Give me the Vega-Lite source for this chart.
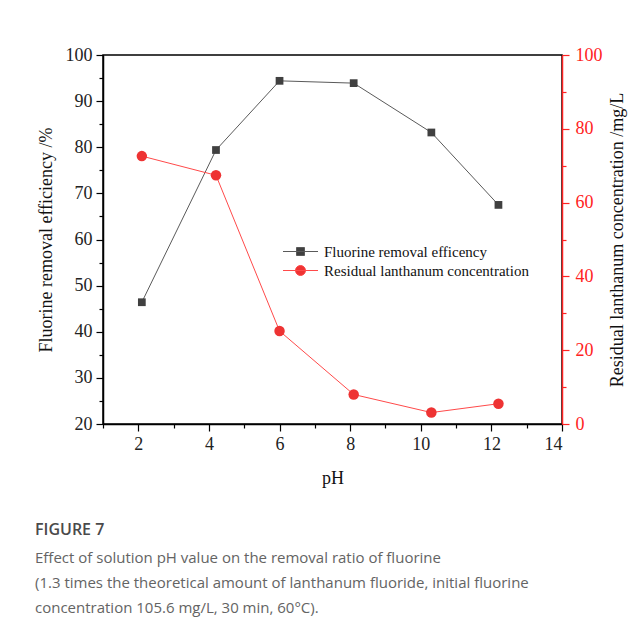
{
  "$schema": "https://vega.github.io/schema/vega-lite/v6.json",
  "autosize": "none",
  "width": 459,
  "height": 369,
  "padding": {"left": 103, "top": 55, "right": 81, "bottom": 204},
  "background": "white",
  "config": {
    "view": {"stroke": "black", "strokeWidth": 1.5},
    "axis": {
      "grid": false,
      "labelFont": "Liberation Serif",
      "labelFontSize": 18,
      "labelColor": "#222",
      "titleFont": "Liberation Serif",
      "titleFontSize": 18,
      "titleFontWeight": "normal",
      "titleColor": "#111",
      "domainColor": "black",
      "domainWidth": 1.5,
      "tickColor": "black",
      "tickWidth": 1.2
    },
    "legend": {
      "labelFont": "Liberation Serif",
      "labelFontSize": 15,
      "labelColor": "#111",
      "labelLimit": 400
    }
  },
  "title": {
    "text": "FIGURE 7",
    "subtitle": [
      "Effect of solution pH value on the removal ratio of fluorine",
      "(1.3 times the theoretical amount of lanthanum fluoride, initial fluorine",
      "concentration 105.6 mg/L, 30 min, 60°C)."
    ],
    "orient": "bottom",
    "anchor": "start",
    "frame": "group",
    "dx": -68,
    "offset": 35,
    "font": "Open Sans",
    "fontSize": 16,
    "fontWeight": 600,
    "color": "#4a4a4a",
    "subtitleFont": "Open Sans",
    "subtitleFontSize": 15,
    "subtitleColor": "#646464",
    "subtitleLineHeight": 25,
    "subtitlePadding": 13
  },
  "data": {
    "values": [
      {"pH": 2.1, "fluorine": 46.4, "lanthanum": 72.6},
      {"pH": 4.2, "fluorine": 79.4, "lanthanum": 67.4},
      {"pH": 6.0, "fluorine": 94.4, "lanthanum": 25.2},
      {"pH": 8.1, "fluorine": 93.9, "lanthanum": 8.0},
      {"pH": 10.3, "fluorine": 83.2, "lanthanum": 3.1},
      {"pH": 12.2, "fluorine": 67.5, "lanthanum": 5.5}
    ]
  },
  "encoding": {
    "x": {
      "field": "pH",
      "type": "quantitative",
      "scale": {"domain": [1, 14], "nice": false, "zero": false},
      "axis": {
        "title": "pH",
        "values": [1, 2, 3, 4, 5, 6, 7, 8, 9, 10, 11, 12, 13, 14],
        "labelExpr": "datum.value % 2 === 0 ? datum.label : ''",
        "tickSize": {"condition": {"test": "datum.value % 2 !== 0", "value": 4}, "value": 7},
        "labelPadding": 4,
        "titlePadding": 16
      }
    }
  },
  "layer": [
    {
      "encoding": {
        "y": {
          "field": "fluorine",
          "type": "quantitative",
          "scale": {"domain": [20, 100], "nice": false, "zero": false},
          "axis": {
            "title": "Fluorine removal efficiency /%",
            "values": [20, 25, 30, 35, 40, 45, 50, 55, 60, 65, 70, 75, 80, 85, 90, 95, 100],
            "labelExpr": "datum.value % 10 === 0 ? datum.label : ''",
            "tickSize": {"condition": {"test": "datum.value % 10 !== 0", "value": 4}, "value": 7},
            "labelPadding": 4,
            "titlePadding": 10
          }
        }
      },
      "layer": [
        {"mark": {"type": "line", "color": "#5a5a5a", "strokeWidth": 1}},
        {"mark": {"type": "point", "shape": "square", "filled": true, "size": 60, "color": "#404040", "opacity": 1}},
        {
          "transform": [{"filter": "false"}],
          "mark": {"type": "point", "filled": true, "opacity": 1},
          "encoding": {
            "fill": {
              "field": "series",
              "type": "nominal",
              "scale": {
                "domain": ["Fluorine removal efficency", "Residual lanthanum concentration"],
                "range": ["#404040", "#ee3333"]
              },
              "legend": {
                "title": null,
                "orient": "none",
                "legendX": 187,
                "legendY": 186,
                "symbolSize": 400,
                "symbolStrokeWidth": 1,
                "labelOffset": 13,
                "rowPadding": 0,
                "padding": 0
              }
            },
            "stroke": {
              "field": "series",
              "type": "nominal",
              "scale": {
                "domain": ["Fluorine removal efficency", "Residual lanthanum concentration"],
                "range": ["#5a5a5a", "#ff4a4a"]
              }
            },
            "shape": {
              "field": "series",
              "type": "nominal",
              "scale": {
                "domain": ["Fluorine removal efficency", "Residual lanthanum concentration"],
                "range": [
                  "M-1.75,0H1.75M-0.4,-0.4H0.4V0.4H-0.4Z",
                  "M-1.75,0H1.75M0.5,0C0.5,0.276,0.276,0.5,0,0.5C-0.276,0.5,-0.5,0.276,-0.5,0C-0.5,-0.276,-0.276,-0.5,0,-0.5C0.276,-0.5,0.5,-0.276,0.5,0Z"
                ]
              }
            }
          }
        }
      ]
    },
    {
      "encoding": {
        "y": {
          "field": "lanthanum",
          "type": "quantitative",
          "scale": {"domain": [0, 100], "nice": false},
          "axis": {
            "orient": "right",
            "title": "Residual lanthanum concentration /mg/L",
            "titleAngle": 270,
            "values": [0, 10, 20, 30, 40, 50, 60, 70, 80, 90, 100],
            "labelExpr": "datum.value % 20 === 0 ? datum.label : ''",
            "tickSize": {"condition": {"test": "datum.value % 20 !== 0", "value": 4}, "value": 7},
            "domainColor": "#ff2222",
            "tickColor": "#ff2222",
            "labelColor": "#ff2222",
            "labelPadding": 6,
            "titlePadding": 24
          }
        }
      },
      "layer": [
        {"mark": {"type": "line", "color": "#ff4a4a", "strokeWidth": 1}},
        {"mark": {"type": "point", "shape": "circle", "filled": true, "size": 110, "color": "#ee3333", "opacity": 1}}
      ]
    }
  ],
  "resolve": {"scale": {"y": "independent"}}
}
